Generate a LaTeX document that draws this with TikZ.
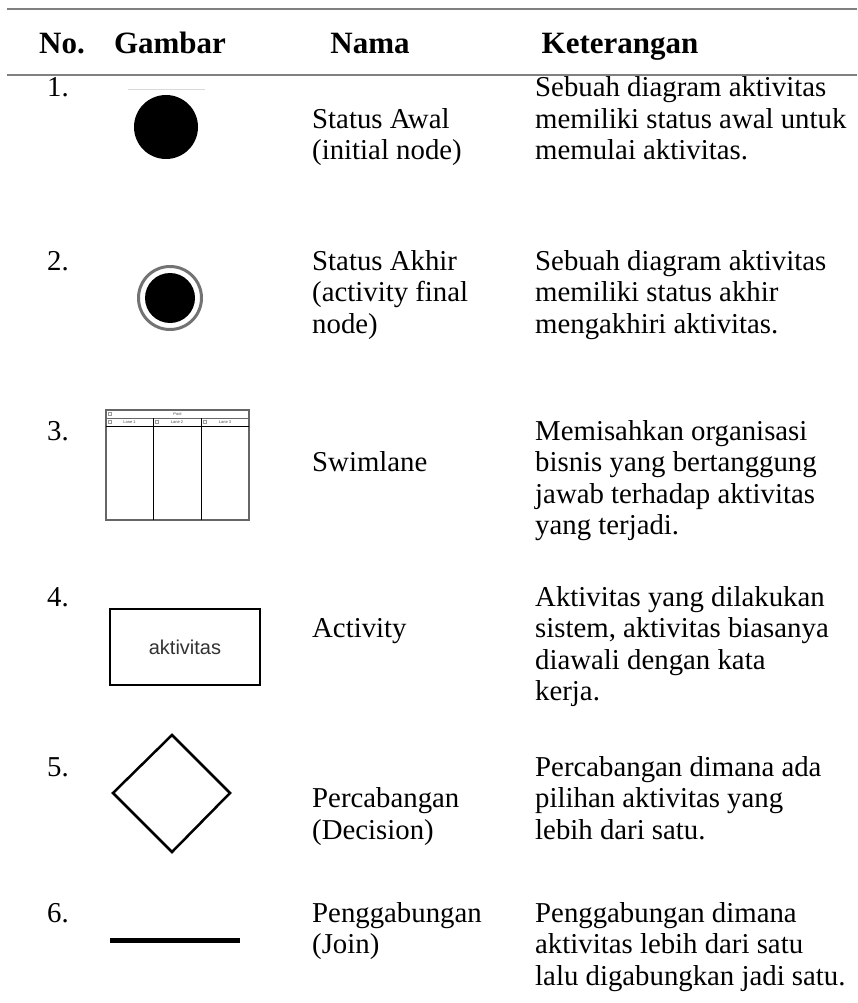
\documentclass[tikz,border=0pt]{standalone}
\usepackage{fontspec}
\setmainfont{Liberation Serif}
\setsansfont{Liberation Sans}
% left-aligned block of lines whose reference point is the first baseline
\newcommand\celltext[1]{\vtop{\baselineskip=31.5pt\lineskiplimit=-100pt\halign{##\hfil\cr#1\crcr}}}
\begin{document}
\begin{tikzpicture}[x=1pt,y=-1pt,
  txt/.style={anchor=base west, inner sep=0pt, font=\fontsize{28.8}{31.5}\selectfont},
  hdr/.style={anchor=base, inner sep=0pt, font=\fontsize{31}{31}\selectfont\bfseries},
  tablerule/.style={draw=black!50, line width=2.5pt},
  shapeline/.style={draw=black, line width=2.5pt},
  lanetxt/.style={inner sep=0pt, font=\sffamily\fontsize{4}{4}\selectfont, text=black!70}]
\useasboundingbox (0,0) rectangle (857,1003);
\fill[white] (0,0) rectangle (857,1003);

% table rules
\coordinate (r1a) at (7,9);   \coordinate (r1b) at (857,9);
\coordinate (r2a) at (7,75);  \coordinate (r2b) at (857,75);
\draw[tablerule] (r1a) -- (r1b);
\draw[tablerule] (r2a) -- (r2b);

% header
\node[hdr] (hNo) at (62,54) {No.};
\node[hdr] (hGambar) at (170,54) {Gambar};
\node[hdr] (hNama) at (370,54) {Nama};
\node[hdr] (hKet) at (620,54) {Keterangan};

% row 1: initial node
\node[txt] (n1) at (47,97) {1.};
\draw[black!15, line width=1pt] (128,90) -- (205,90);
\fill[black] (166,127) circle (32);
\node[txt] (m1) at (312,128.5) {\celltext{Status Awal\cr(initial node)}};
\node[txt] (k1) at (535,97) {\celltext{Sebuah diagram aktivitas\cr memiliki status awal untuk\cr memulai aktivitas.}};

% row 2: activity final node
\node[txt] (n2) at (47,270) {2.};
\draw[black!55, line width=3pt] (170,298) circle (31.5);
\fill[black] (170,298) circle (25);
\node[txt] (m2) at (312,270) {\celltext{Status Akhir\cr(activity final\cr node)}};
\node[txt] (k2) at (535,270) {\celltext{Sebuah diagram aktivitas\cr memiliki status akhir\cr mengakhiri aktivitas.}};

% row 3: swimlane
\node[txt] (n3) at (47,440) {3.};
\draw[black!60, line width=1.2pt] (106,410) rectangle (249,520);
\draw[black!60, line width=1pt] (106,418) -- (249,418);
\draw[black, line width=1pt] (106,426) -- (249,426);
\draw[black, line width=1pt] (153,418) -- (153,520);
\draw[black, line width=1pt] (201,418) -- (201,520);
\node[lanetxt] (pool) at (177.5,414) {Pool};
\node[lanetxt] (lane1) at (129.5,422) {Lane 1};
\node[lanetxt] (lane2) at (177,422) {Lane 2};
\node[lanetxt] (lane3) at (225,422) {Lane 3};
\foreach \px/\py in {108/412, 108/420, 155/420, 203/420}
  \draw[black!40, line width=0.4pt] (\px,\py) rectangle ++(3,3);
\node[txt] (m3) at (312,471.5) {Swimlane};
\node[txt] (k3) at (535,440) {\celltext{Memisahkan organisasi\cr bisnis yang bertanggung\cr jawab terhadap aktivitas\cr yang terjadi.}};

% row 4: activity
\node[txt] (n4) at (47,606) {4.};
\node[shapeline, rectangle, minimum width=150, minimum height=76, inner sep=0pt,
      font=\sffamily\fontsize{20}{20}\selectfont, text=black!80] (act) at (185,647) {aktivitas};
\node[txt] (m4) at (312,637.5) {Activity};
\node[txt] (k4) at (535,606) {\celltext{Aktivitas yang dilakukan\cr sistem, aktivitas biasanya\cr diawali dengan kata\cr kerja.}};

% row 5: decision
\node[txt] (n5) at (47,776) {5.};
\coordinate (dt) at (172,735); \coordinate (dr) at (230,793);
\coordinate (db) at (172,852); \coordinate (dl) at (113,793);
\draw[shapeline, line join=miter] (dt) -- (dr) -- (db) -- (dl) -- cycle;
\node[txt] (m5) at (312,807.5) {\celltext{Percabangan\cr(Decision)}};
\node[txt] (k5) at (535,776) {\celltext{Percabangan dimana ada\cr pilihan aktivitas yang\cr lebih dari satu.}};

% row 6: join
\node[txt] (n6) at (47,922) {6.};
\coordinate (ja) at (110,940); \coordinate (jb) at (240,940);
\draw[black, line width=5pt] (ja) -- (jb);
\node[txt] (m6) at (312,922) {\celltext{Penggabungan\cr(Join)}};
\node[txt] (k6) at (535,922) {\celltext{Penggabungan dimana\cr aktivitas lebih dari satu\cr lalu digabungkan jadi satu.}};
\end{tikzpicture}
\end{document}
